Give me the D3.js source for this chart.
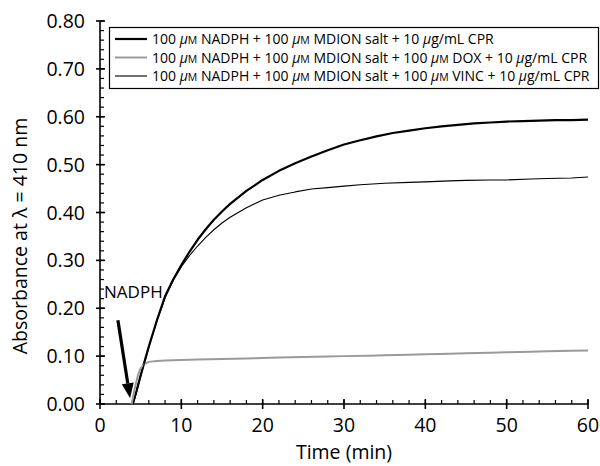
<!DOCTYPE html>
<html>
<head>
<meta charset="utf-8">
<script src="https://cdn.jsdelivr.net/npm/d3@7"></script>
<style>
  html, body { margin: 0; padding: 0; background: #fff; }
  svg { display: block; font-family: "Open Sans", "Noto Sans", sans-serif; }
</style>
</head>
<body>
<svg id="chart" width="600" height="466"></svg>
<script>
// ---------- data ----------
const xTicks = [0, 10, 20, 30, 40, 50, 60];
const yTicks = [0, 0.1, 0.2, 0.3, 0.4, 0.5, 0.6, 0.7, 0.8];

const cprTime = [4.0, 4.5, 5, 5.5, 6, 7, 8, 9, 10, 11, 12, 13, 14, 15, 16, 18, 20, 22, 24, 26, 28, 30, 32, 34, 36, 38, 40, 42, 44, 46, 48, 50, 52, 54, 56, 58, 60];
const cprAbs  = [0, 0.028, 0.06, 0.09, 0.12, 0.175, 0.225, 0.26, 0.29, 0.318, 0.343, 0.365, 0.385, 0.402, 0.418, 0.445, 0.468, 0.487, 0.503, 0.517, 0.53, 0.542, 0.551, 0.559, 0.566, 0.571, 0.576, 0.58, 0.583, 0.586, 0.588, 0.59, 0.591, 0.592, 0.593, 0.593, 0.594];

const doxTime = [3.9, 4.3, 4.7, 5.0, 5.5, 6, 7, 8, 10, 12, 15, 18, 20, 22, 25, 28, 30, 33, 35, 38, 40, 43, 45, 48, 50, 53, 55, 58, 60];
const doxAbs  = [0, 0.035, 0.062, 0.075, 0.084, 0.088, 0.09, 0.091, 0.092, 0.093, 0.094, 0.095, 0.096, 0.097, 0.098, 0.099, 0.1, 0.101, 0.102, 0.103, 0.104, 0.105, 0.106, 0.107, 0.108, 0.109, 0.11, 0.111, 0.112];

const vincTime = [4.1, 4.5, 5, 5.5, 6, 7, 8, 9, 10, 11, 12, 13, 14, 15, 16, 18, 20, 22, 24, 26, 28, 30, 32, 35, 38, 40, 43, 45, 48, 50, 53, 55, 58, 60];
const vincAbs  = [0, 0.025, 0.057, 0.088, 0.118, 0.173, 0.222, 0.258, 0.287, 0.31, 0.33, 0.348, 0.364, 0.378, 0.39, 0.41, 0.426, 0.436, 0.443, 0.449, 0.452, 0.455, 0.458, 0.461, 0.463, 0.464, 0.466, 0.467, 0.468, 0.468, 0.47, 0.471, 0.472, 0.474];

// legend parts: [text, style] (1 = italic mu, 2 = small-cap M)
const legendRows = [
  [["100 ", 0], ["μ", 1], ["M", 2], [" NADPH + 100 ", 0], ["μ", 1], ["M", 2], [" MDION salt + 10 ", 0], ["μ", 1], ["g/mL CPR", 0]],
  [["100 ", 0], ["μ", 1], ["M", 2], [" NADPH + 100 ", 0], ["μ", 1], ["M", 2], [" MDION salt + 100 ", 0], ["μ", 1], ["M", 2], [" DOX + 10 ", 0], ["μ", 1], ["g/mL CPR", 0]],
  [["100 ", 0], ["μ", 1], ["M", 2], [" NADPH + 100 ", 0], ["μ", 1], ["M", 2], [" MDION salt + 100 ", 0], ["μ", 1], ["M", 2], [" VINC + 10 ", 0], ["μ", 1], ["g/mL CPR", 0]]
];

const arrowStart = [2.2, 0.175];
const arrowEnd = [3.7, 0.012];
const labelPos = [0.5, 0.222];

// ---------- layout ----------
const svg = d3.select("#chart");
const x = d3.scaleLinear().domain([0, 60]).range([100, 588]);
const y = d3.scaleLinear().domain([0, 0.8]).range([404, 21]);

const series = [
  { t: cprTime, v: cprAbs, color: "#000", w: 2.2 },
  { t: doxTime, v: doxAbs, color: "#9a9a9a", w: 2 },
  { t: vincTime, v: vincAbs, color: "#000", w: 1.1 }
];

// axes
const gx = svg.append("g").attr("transform", `translate(0,${y(0)})`);
gx.append("line").attr("x1", x(0)).attr("x2", x(60)).attr("stroke", "#000").attr("stroke-width", 1.6);
gx.selectAll(".minor").data(d3.range(0, 61, 2)).join("line")
  .attr("x1", d => x(d)).attr("x2", d => x(d)).attr("y1", 0).attr("y2", -4)
  .attr("stroke", "#000").attr("stroke-width", 1.2);
gx.selectAll(".major").data(xTicks).join("line")
  .attr("x1", d => x(d)).attr("x2", d => x(d)).attr("y1", 5).attr("y2", -5)
  .attr("stroke", "#000").attr("stroke-width", 1.6);
gx.selectAll("text").data(xTicks).join("text")
  .attr("x", d => x(d)).attr("y", 28).attr("text-anchor", "middle")
  .attr("font-size", 19.5).text(d => d);

const gy = svg.append("g").attr("transform", `translate(${x(0)},0)`);
gy.append("line").attr("y1", y(0)).attr("y2", y(0.8)).attr("stroke", "#000").attr("stroke-width", 1.6);
gy.selectAll(".minor").data(d3.range(0, 41).map(i => i * 0.02)).join("line")
  .attr("y1", d => y(d)).attr("y2", d => y(d)).attr("x1", 0).attr("x2", 4)
  .attr("stroke", "#000").attr("stroke-width", 1.2);
gy.selectAll(".major").data(yTicks).join("line")
  .attr("y1", d => y(d)).attr("y2", d => y(d)).attr("x1", -4).attr("x2", 5)
  .attr("stroke", "#000").attr("stroke-width", 1.6);
gy.selectAll("text").data(yTicks).join("text")
  .attr("x", -15).attr("y", d => y(d)).attr("dy", "0.36em").attr("text-anchor", "end")
  .attr("font-size", 19.5).text(d => d3.format(".2f")(d));

// axis titles
svg.append("text").attr("x", x(30)).attr("y", 459).attr("text-anchor", "middle")
  .attr("font-size", 19.5).text("Time (min)");
svg.append("text").attr("transform", `translate(27,236) rotate(-90)`)
  .attr("text-anchor", "middle").attr("font-size", 19.5).text("Absorbance at λ = 410 nm");

// lines
const line = d3.line().x(d => x(d[0])).y(d => y(d[1]));
series.forEach(s => {
  const pts = s.t.map((t, i) => [t, s.v[i]]);
  svg.append("path").attr("d", line(pts)).attr("fill", "none")
    .attr("stroke", s.color).attr("stroke-width", s.w).attr("stroke-linejoin", "round");
});

// NADPH annotation
svg.append("text").attr("x", x(labelPos[0])).attr("y", y(labelPos[1]))
  .attr("font-size", 17).text("NADPH");
const ax1 = x(arrowStart[0]), ay1 = y(arrowStart[1]);
const ax2 = x(arrowEnd[0]), ay2 = y(arrowEnd[1]);
const ang = Math.atan2(ay2 - ay1, ax2 - ax1);
const headLen = 15, headW = 6;
const bx = ax2 - headLen * Math.cos(ang), by = ay2 - headLen * Math.sin(ang);
svg.append("line").attr("x1", ax1).attr("y1", ay1).attr("x2", bx).attr("y2", by)
  .attr("stroke", "#000").attr("stroke-width", 3.2);
svg.append("path")
  .attr("d", `M${ax2},${ay2} L${bx + headW * Math.sin(ang)},${by - headW * Math.cos(ang)} L${bx - headW * Math.sin(ang)},${by + headW * Math.cos(ang)} Z`)
  .attr("fill", "#000");

// legend
const lg = svg.append("g");
lg.append("rect").attr("x", 109.5).attr("y", 27.5).attr("width", 489).attr("height", 61)
  .attr("fill", "#fff").attr("stroke", "#000").attr("stroke-width", 1.2);
legendRows.forEach((row, i) => {
  const cy = 39 + i * 18.5;
  lg.append("line").attr("x1", 115).attr("x2", 147).attr("y1", cy).attr("y2", cy)
    .attr("stroke", series[i].color).attr("stroke-width", series[i].w);
  const t = lg.append("text").attr("x", 152).attr("y", cy).attr("dy", "0.36em").attr("font-size", 14);
  row.forEach(([s, k]) => {
    const ts = t.append("tspan").text(s);
    if (k === 1) ts.attr("font-style", "italic");
    if (k === 2) ts.attr("font-size", 10.5);
  });
});
</script>
</body>
</html>
